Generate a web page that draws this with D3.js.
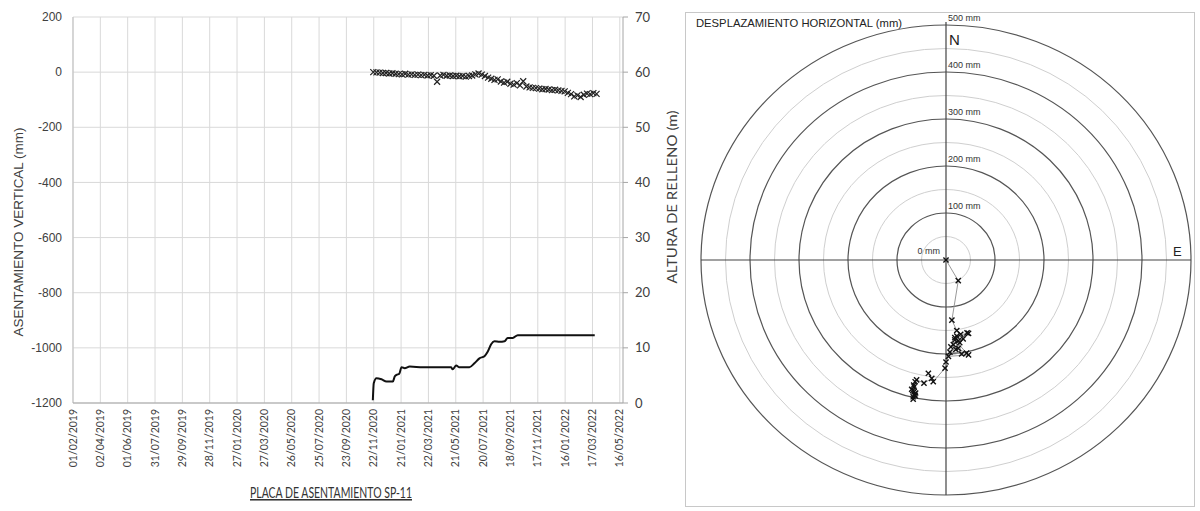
<!DOCTYPE html>
<html><head><meta charset="utf-8">
<script src="https://cdn.jsdelivr.net/npm/d3@7"></script>
<style>html,body{margin:0;padding:0;background:#fff;}svg{display:block;}</style>
</head><body>
<svg id="c" width="1200" height="511"></svg>
<script>
// ---------- DATA ----------
const xTickLabels = ["01/02/2019","02/04/2019","01/06/2019","31/07/2019","29/09/2019","28/11/2019","27/01/2020","27/03/2020","26/05/2020","25/07/2020","23/09/2020","22/11/2020","21/01/2021","22/03/2021","21/05/2021","20/07/2021","18/09/2021","17/11/2021","16/01/2022","17/03/2022","16/05/2022"];
const yLeftTicks = [200,0,-200,-400,-600,-800,-1000,-1200];
const yRightTicks = [0,10,20,30,40,50,60,70];

const settleDates = ["2020-11-21","2020-11-28","2020-12-05","2020-12-12","2020-12-19","2020-12-26","2021-01-02","2021-01-09","2021-01-16","2021-01-23","2021-01-30","2021-02-06","2021-02-13","2021-02-20","2021-02-27","2021-03-06","2021-03-13","2021-03-20","2021-03-27","2021-04-03","2021-04-10","2021-04-17","2021-04-24","2021-05-01","2021-05-08","2021-05-15","2021-05-22","2021-05-29","2021-06-05","2021-06-12","2021-06-19","2021-06-26","2021-07-03","2021-07-10","2021-07-17","2021-07-24","2021-07-31","2021-08-07","2021-08-14","2021-08-21","2021-08-28","2021-09-04","2021-09-11","2021-09-18","2021-09-25","2021-10-02","2021-10-09","2021-10-16","2021-10-23","2021-10-30","2021-11-06","2021-11-13","2021-11-20","2021-11-27","2021-12-04","2021-12-11","2021-12-18","2021-12-25","2022-01-01","2022-01-08","2022-01-15","2022-01-22","2022-01-29","2022-02-05","2022-02-12","2022-02-19","2022-02-26","2022-03-05","2022-03-12","2022-03-19","2022-03-26"];
const settleValues = [0,-1,-2,-3,-3,-5,-4,-6,-7,-8,-6,-9,-8,-10,-9,-11,-10,-12,-11,-13,-35,-12,-10,-13,-12,-14,-13,-15,-14,-16,-14,-12,-8,-5,-9,-14,-20,-24,-28,-26,-34,-38,-35,-42,-45,-40,-48,-33,-52,-55,-57,-58,-60,-62,-61,-63,-65,-64,-66,-68,-70,-75,-80,-88,-84,-90,-82,-78,-80,-76,-79];

const fillDates = ["2020-11-20","2020-11-22","2020-11-28","2020-12-09","2020-12-20","2021-01-03","2021-01-07","2021-01-11","2021-01-17","2021-01-22","2021-01-29","2021-02-09","2021-03-10","2021-05-11","2021-05-14","2021-05-22","2021-05-28","2021-06-20","2021-07-01","2021-07-12","2021-07-23","2021-07-30","2021-08-07","2021-08-14","2021-08-25","2021-09-05","2021-09-12","2021-09-23","2021-10-04","2022-03-22"];
const fillValues = [0.5,3.6,4.5,4.3,3.9,3.9,4.8,5.1,5.3,6.5,6.3,6.6,6.5,6.5,6.1,6.8,6.5,6.5,7.2,8.1,8.5,9.3,10.7,11.2,11.1,11.2,11.8,11.8,12.3,12.3];

const ringValues = [50,100,150,200,250,300,350,400,450,500];
const ringLabels = ["100 mm","200 mm","300 mm","400 mm","500 mm"];
const dispEast  = [0,25,12,22,30,18,43,25,15,35,20,28,46,10,22,32,8,42,18,25,46,5,0,-2,-26,-36,-29,-45,-60,-63,-65,-67,-62,-68,-64,-66,-70,-63,-67,-65];
const dispNorth = [0,-44,-128,-150,-158,-165,-155,-172,-180,-168,-190,-176,-156,-185,-162,-200,-196,-198,-170,-188,-202,-205,-217,-230,-259,-241,-252,-262,-255,-259,-270,-291,-283,-278,-286,-266,-275,-289,-296,-280];

// ---------- CHART ----------
const svg = d3.select("#c");
const parseTick = d3.timeParse("%d/%m/%Y");
const parseISO = d3.timeParse("%Y-%m-%d");
const ARIAL = "'Liberation Sans', Arial, sans-serif";
const CAL = "Lato, sans-serif";

const x = d3.scaleTime().domain([new Date(2019,1,1), new Date(2022,4,23)]).range([73,623]);
const yL = d3.scaleLinear().domain([-1200,200]).range([403,17]);
const yR = d3.scaleLinear().domain([0,70]).range([403,17]);
const tickDates = xTickLabels.map(parseTick);

const L = svg.append("g");
// grid
L.selectAll(".hg").data(yLeftTicks).join("line")
  .attr("x1",73).attr("x2",623).attr("y1",d=>yL(d)).attr("y2",d=>yL(d))
  .attr("stroke","#d9d9d9").attr("stroke-width",1);
L.selectAll(".vg").data(tickDates).join("line")
  .attr("x1",d=>x(d)).attr("x2",d=>x(d)).attr("y1",17).attr("y2",403)
  .attr("stroke","#d9d9d9").attr("stroke-width",1);
// axis frame lines
L.append("line").attr("x1",73).attr("x2",73).attr("y1",17).attr("y2",403).attr("stroke","#bfbfbf");
L.append("line").attr("x1",73).attr("x2",623).attr("y1",403).attr("y2",403).attr("stroke","#a6a6a6").attr("stroke-width",1.2);
L.append("line").attr("x1",623).attr("x2",623).attr("y1",17).attr("y2",403).attr("stroke","#a6a6a6");
L.selectAll(".rt").data(yRightTicks).join("line")
  .attr("x1",623).attr("x2",628).attr("y1",d=>yR(d)).attr("y2",d=>yR(d)).attr("stroke","#a6a6a6");

// left tick labels
L.selectAll(".lt").data(yLeftTicks).join("text")
  .attr("x",62).attr("y",d=>yL(d)).attr("dy","0.35em").attr("text-anchor","end")
  .attr("font-family",ARIAL).attr("font-size",12).attr("fill","#404040")
  .text(d=>d);
// right tick labels
L.selectAll(".rl").data(yRightTicks).join("text")
  .attr("x",635).attr("y",d=>yR(d)).attr("dy","0.35em").attr("text-anchor","start")
  .attr("font-family",CAL).attr("font-size",13).attr("fill","#404040")
  .text(d=>d);
// x tick labels
L.selectAll(".xl").data(tickDates).join("text")
  .attr("transform",d=>`translate(${x(d)},409) rotate(-90)`)
  .attr("text-anchor","end").attr("dy","0.35em")
  .attr("font-family",CAL).attr("font-size",10.5).attr("fill","#404040")
  .text((d,i)=>xTickLabels[i]);
// axis titles
L.append("text").attr("transform","translate(23,232) rotate(-90)").attr("text-anchor","middle")
  .attr("font-family",ARIAL).attr("font-size",12.5).attr("fill","#404040")
  .attr("textLength",209).attr("lengthAdjust","spacingAndGlyphs")
  .text("ASENTAMIENTO VERTICAL  (mm)");
L.append("text").attr("transform","translate(677,197) rotate(-90)").attr("text-anchor","middle")
  .attr("font-family",CAL).attr("font-size",13.5).attr("fill","#404040")
  .attr("textLength",173).attr("lengthAdjust","spacingAndGlyphs")
  .text("ALTURA DE RELLENO (m)");
// chart title underlined
L.append("text").attr("x",331).attr("y",498).attr("text-anchor","middle")
  .attr("font-family",CAL).attr("font-size",15.5).attr("fill","#333")
  .attr("text-decoration","underline")
  .attr("textLength",162).attr("lengthAdjust","spacingAndGlyphs")
  .text("PLACA DE ASENTAMIENTO SP-11");

// fill height line
const fillData = fillDates.map((d,i)=>({d:parseISO(d),v:fillValues[i]}));
L.append("path").datum(fillData)
  .attr("d",d3.line().x(d=>x(d.d)).y(d=>yR(d.v)).curve(d3.curveMonotoneX))
  .attr("fill","none").attr("stroke","#111").attr("stroke-width",2);

// settlement markers
const settleData = settleDates.map((d,i)=>({d:parseISO(d),v:settleValues[i]}));
const xm = "M-3,-3L3,3M-3,3L3,-3";
L.selectAll(".sm").data(settleData).join("path")
  .attr("transform",d=>`translate(${x(d.d)},${yL(d.v)})`)
  .attr("d",xm).attr("fill","none").attr("stroke","#222").attr("stroke-width",1.2);

// ---------- POLAR PANEL ----------
const P = svg.append("g");
P.append("rect").attr("x",685.5).attr("y",12.5).attr("width",509).attr("height",494)
  .attr("fill","none").attr("stroke","#c8c8c8");
const cx = 946, cy = 260;
const px = d3.scaleLinear().domain([-500,500]).range([cx-245, cx+245]);
const py = d3.scaleLinear().domain([-500,500]).range([cy+235, cy-235]);

P.selectAll(".ring").data(ringValues).join("ellipse")
  .attr("cx",px(0)).attr("cy",py(0))
  .attr("rx",d=>px(d)-px(0)).attr("ry",d=>py(0)-py(d))
  .attr("fill","none")
  .attr("stroke",d=>d%100===0?"#555":"#cfcfcf")
  .attr("stroke-width",d=>d%100===0?1.2:1);
// axes
P.append("line").attr("x1",px(-500)).attr("x2",px(500)).attr("y1",py(0)).attr("y2",py(0)).attr("stroke","#444").attr("stroke-width",1.2);
P.append("line").attr("x1",px(0)).attr("x2",px(0)).attr("y1",py(500)-3).attr("y2",py(-500)).attr("stroke","#444").attr("stroke-width",1.2);
// ring labels
P.selectAll(".rlab").data(ringLabels).join("text")
  .attr("x",px(0)+2).attr("y",(d,i)=>py((i+1)*100)-4)
  .attr("font-family",ARIAL).attr("font-size",9).attr("fill","#333")
  .text(d=>d);
P.append("text").attr("x",px(0)-6).attr("y",py(0)-6).attr("text-anchor","end")
  .attr("font-family",ARIAL).attr("font-size",9).attr("fill","#333")
  .text("0 mm");
P.append("text").attr("x",949).attr("y",45)
  .attr("font-family",ARIAL).attr("font-size",15).attr("fill","#222").text("N");
P.append("text").attr("x",1173).attr("y",256)
  .attr("font-family",ARIAL).attr("font-size",13).attr("fill","#222").text("E");
P.append("text").attr("x",696).attr("y",27)
  .attr("font-family",ARIAL).attr("font-size",11).attr("fill","#222")
  .attr("textLength",206).attr("lengthAdjust","spacingAndGlyphs")
  .text("DESPLAZAMIENTO HORIZONTAL  (mm)");

// displacement path
const disp = dispEast.map((e,i)=>({e:e,n:dispNorth[i]}));
P.append("path").datum(disp)
  .attr("d",d3.line().x(d=>px(d.e)).y(d=>py(d.n)))
  .attr("fill","none").attr("stroke","#999").attr("stroke-width",1);
P.selectAll(".dm").data(disp).join("path")
  .attr("transform",d=>`translate(${px(d.e)},${py(d.n)})`)
  .attr("d","M-2.6,-2.6L2.6,2.6M-2.6,2.6L2.6,-2.6").attr("fill","none").attr("stroke","#111").attr("stroke-width",1.4);
</script>
</body></html>
